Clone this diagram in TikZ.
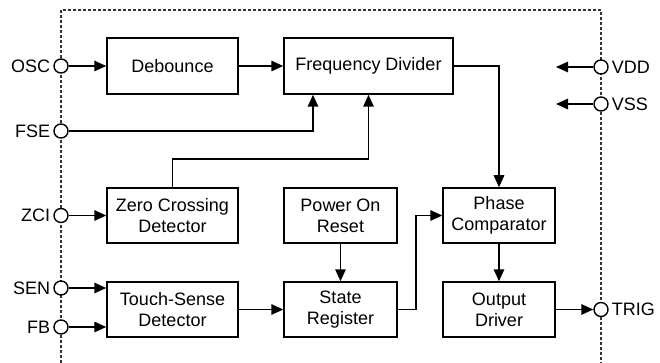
\documentclass[tikz,border=0pt]{standalone}
\usepackage{fontspec}
\setmainfont{Liberation Sans}
\usetikzlibrary{arrows.meta}
\begin{document}
\begin{tikzpicture}[x=1pt,y=-1pt,
  blk/.style={draw,line width=1.5pt,inner sep=0pt,align=center,font=\fontsize{18}{21}\selectfont},
  pin/.style={circle,draw,fill=white,line width=1.4pt,minimum size=14pt,inner sep=0pt},
  pinlab/.style={font=\fontsize{18}{21}\selectfont,inner sep=1pt},
  arr/.style={line width=1.5pt,-{Triangle[length=12pt,width=10.5pt]}},
  frame/.style={line width=1.1pt,black!80,dash pattern=on 3pt off 2pt}]
\useasboundingbox (0,0) rectangle (660,363);
\draw[frame] (61,363) -- (61,10) -- (601,10) -- (601,363);
% blocks
\node[blk,minimum width=131pt,minimum height=56pt] (deb) at (172.5,66) {Debounce};
\node[blk,minimum width=169pt,minimum height=56pt] (fd) at (368.5,66) {Frequency Divider};
\node[blk,minimum width=131pt,minimum height=55pt] (zcd) at (172.5,215.5) {Zero Crossing\\Detector};
\node[blk,minimum width=113pt,minimum height=55pt] (por) at (340.5,215.5) {Power On\\Reset};
\node[blk,minimum width=131pt,minimum height=55pt] (tsd) at (172.5,309.5) {Touch-Sense\\Detector};
\node[blk,minimum width=113pt,minimum height=55pt] (sr) at (340.5,309.5) {State\\Register};
\node[blk,minimum width=112pt,minimum height=55pt] (pc) at (499,215.5) {Phase\\Comparator};
\node[blk,minimum width=112pt,minimum height=55pt] (od) at (499,309.5) {Output\\Driver};
% pins
\node[pin,label={[pinlab,label distance=2pt]left:OSC}] (osc) at (61,66) {};
\node[pin,label={[pinlab,label distance=2pt]left:FSE}] (fse) at (61,131) {};
\node[pin,label={[pinlab,label distance=2pt]left:ZCI}] (zci) at (61,215.5) {};
\node[pin,label={[pinlab,label distance=2pt]left:SEN}] (sen) at (61,288) {};
\node[pin,label={[pinlab,label distance=2pt]left:FB}] (fb) at (61,327) {};
\node[pin,label={[pinlab,label distance=2pt]right:VDD}] (vdd) at (601,67) {};
\node[pin,label={[pinlab,label distance=2pt]right:VSS}] (vss) at (601,104) {};
\node[pin,label={[pinlab,label distance=2pt]right:TRIG}] (trig) at (601,309.5) {};
\coordinate (vddend) at (556,67);
\coordinate (vssend) at (556,104);
% connectors
\draw[arr] (osc) -- (deb);
\draw[arr] (deb) -- (fd);
\draw[arr] (fse) -| ([xshift=-55.5pt]fd.south);
\draw[arr] (zcd.north) -- ++(0,-28) -| (fd.south);
\draw[arr] (fd.east) -| (pc.north);
\draw[arr] (vdd) -- (vddend);
\draw[arr] (vss) -- (vssend);
\draw[arr] (zci) -- (zcd);
\draw[arr] (sen) -- (tsd.west |- sen);
\draw[arr] (fb) -- (tsd.west |- fb);
\draw[arr] (tsd) -- (sr);
\draw[arr] (por) -- (sr);
\draw[arr] (sr.east) -- ++(18,0) |- (pc.west);
\draw[arr] (pc) -- (od);
\draw[arr] (od) -- (trig);
\end{tikzpicture}
\end{document}
